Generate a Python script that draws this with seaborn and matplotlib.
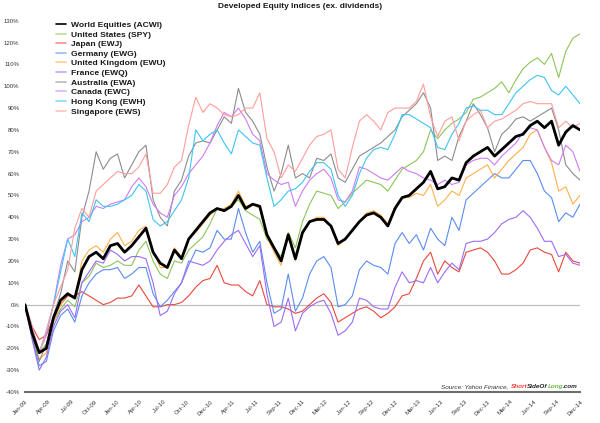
import numpy as np
import pandas as pd
import matplotlib
matplotlib.use("Agg")
import matplotlib.pyplot as plt
from matplotlib.lines import Line2D
import seaborn as sns
from matplotlib.offsetbox import TextArea, HPacker, AnchoredOffsetbox

SERIES = ["World Equities (ACWI)", "United States (SPY)", "Japan (EWJ)", "Germany (EWG)",
          "United Kingdom (EWU)", "France (EWQ)", "Australia (EWA)", "Canada (EWC)",
          "Hong Kong (EWH)", "Singapore (EWS)"]
COLORS = ["#000000", "#8cc45a", "#e8483e", "#5a8cf0", "#ffb04a", "#9b6cf5",
          "#8c8c8c", "#cf7cf5", "#3cc4f5", "#ff9e9a"]

TICK_LABELS = ["Jan-09", "Apr-09", "Jul-09", "Oct-09", "Jan-10", "Apr-10", "Jul-10", "Oct-10",
               "Dec-10", "Apr-11", "Jul-11", "Sep-11", "Dec-11", "Mar-12", "Jun-12", "Sep-12",
               "Dec-12", "Mar-13", "Jun-13", "Sep-13", "Dec-13", "Mar-14", "Jun-14", "Sep-14",
               "Dec-14"]
Y_TICKS = list(range(-40, 131, 10))

# cumulative % returns, sampled every 4 weeks from 2 Jan 2009
world = [0, -13, -22, -20, -6, 2, 5, 3, 16, 22,
         24, 21, 27, 28, 24, 27, 31, 35, 24, 19,
         17, 25, 21, 30, 34, 38, 42, 44, 43, 45,
         50, 44, 46, 45, 32, 26, 20, 32, 21, 33,
         38, 39, 39, 36, 28, 30, 34, 38, 41, 42,
         40, 36, 44, 49, 50, 53, 56, 61, 53, 54,
         58, 57, 65, 68, 70, 72, 68, 71, 74, 77,
         78, 82, 84, 81, 84, 73, 79, 82, 80]
us = [0, -12, -22, -18, -8, -2, 2, -1, 10, 13,
      19, 17, 18, 20, 18, 18, 25, 29, 20, 14,
      12, 20, 19, 25, 28, 31, 37, 44, 44, 45,
      48, 43, 41, 39, 30, 26, 22, 33, 26, 38,
      46, 52, 51, 50, 44, 47, 51, 54, 57, 56,
      55, 52, 57, 62, 64, 66, 70, 80, 76, 80,
      83, 85, 88, 94, 95, 97, 99, 102, 97, 103,
      108, 111, 113, 110, 115, 104, 116, 122, 124]
japan = [0, -10, -16, -14, -6, 0, 4, 4, 6, 4,
         2, 0, 1, 3, 3, 4, 9, 4, -1, -1,
         0, 0, 1, 4, 8, 11, 12, 18, 10, 9,
         9, 6, 4, 11, 0, -1, -1, -2, -4, -3,
         0, 3, 5, 1, -8, -6, -4, -2, -1, -3,
         -6, -4, -1, 4, 5, 12, 20, 24, 14, 20,
         17, 15, 24, 25, 26, 24, 20, 14, 14, 16,
         19, 25, 26, 24, 23, 15, 24, 20, 19]
germany = [0, -15, -28, -26, -12, -5, -2, -8, 4, 10,
           14, 16, 16, 17, 12, 14, 17, 17, 5, -1,
           2, 6, 10, 18, 25, 24, 26, 34, 30, 30,
           44, 33, 24, 29, 10, -4, -2, 14, -3, 3,
           14, 20, 22, 17, -1, 0, 4, 16, 20, 18,
           17, 14, 28, 33, 28, 32, 25, 35, 30, 27,
           40, 34, 48, 51, 54, 57, 60, 58, 58, 62,
           66, 66, 60, 52, 49, 38, 42, 40, 46]
uk = [0, -14, -25, -22, -8, 0, 5, 3, 20, 25,
      27, 24, 30, 33, 27, 29, 34, 36, 25, 17,
      17, 26, 22, 30, 33, 37, 41, 44, 44, 46,
      52, 45, 46, 44, 31, 24, 18, 33, 20, 32,
      38, 40, 40, 36, 27, 30, 34, 38, 42, 43,
      41, 37, 45, 49, 49, 51, 50, 55, 45, 48,
      52, 50, 58, 60, 62, 64, 58, 62, 66, 69,
      72, 78, 80, 72, 65, 52, 54, 46, 50]
france = [0, -16, -30, -24, -10, -3, 0, -6, 10, 15,
          20, 19, 25, 23, 20, 22, 22, 21, 10, -5,
          -3, 5, 10, 20, 19, 18, 20, 25, 29, 32,
          34, 28, 22, 27, 5, -10, -8, 3, -12, -4,
          -1, 1, 2, -4, -14, -12, -8, 3, 2, -1,
          -2, -2, 8, 15, 10, 11, 10, 17, 10, 15,
          19, 16, 28, 29, 29, 30, 33, 37, 39, 40,
          43, 40, 35, 29, 29, 22, 23, 19, 18]
australia = [0, -14, -26, -18, -5, 5, 20, 15, 40, 52,
             70, 62, 67, 69, 58, 64, 70, 73, 48, 40,
             36, 52, 57, 68, 74, 75, 74, 80, 86, 83,
             99, 88, 84, 78, 63, 52, 60, 73, 58, 60,
             58, 67, 66, 69, 58, 56, 62, 68, 70, 72,
             74, 77, 80, 86, 89, 92, 97, 90, 66, 68,
             66, 77, 84, 92, 87, 81, 70, 78, 81, 85,
             86, 84, 86, 88, 90, 80, 64, 60, 57]
canada = [0, -10, -22, -14, 0, 18, 30, 32, 38, 40,
          45, 44, 46, 47, 48, 54, 58, 54, 46, 42,
          40, 50, 54, 60, 64, 68, 74, 82, 88, 86,
          90, 85, 78, 75, 60, 57, 55, 56, 45, 52,
          57, 60, 62, 58, 48, 47, 52, 63, 62, 60,
          58, 57, 60, 63, 61, 60, 58, 57, 55, 57,
          55, 56, 64, 66, 67, 67, 64, 68, 71, 74,
          79, 81, 80, 72, 66, 64, 73, 70, 61]
hongkong = [0, -12, -22, -12, 0, 15, 30, 22, 42, 38,
            48, 45, 45, 46, 48, 50, 55, 52, 39, 36,
            38, 43, 48, 58, 80, 75, 78, 80, 74, 69,
            80, 77, 74, 73, 58, 45, 48, 52, 53, 56,
            61, 65, 65, 62, 50, 45, 50, 60, 67, 71,
            72, 71, 78, 87, 87, 85, 83, 81, 72, 71,
            78, 83, 90, 91, 89, 89, 87, 87, 92, 97,
            100, 103, 105, 104, 98, 96, 100, 96, 92]
singapore = [0, -10, -22, -12, 0, 8, 16, 35, 44, 40,
             52, 55, 58, 61, 60, 60, 63, 69, 51, 51,
             55, 63, 66, 82, 95, 88, 92, 90, 87, 86,
             87, 90, 90, 97, 76, 70, 58, 64, 61, 67,
             73, 77, 78, 80, 62, 58, 72, 84, 87, 84,
             80, 88, 90, 90, 90, 93, 101, 86, 77, 84,
             86, 75, 84, 87, 89, 81, 84, 85, 87, 89,
             92, 93, 92, 92, 92, 81, 84, 81, 83]

VALUES = [world, us, japan, germany, uk, france, australia, canada, hongkong, singapore]

dates = pd.date_range("2009-01-02", periods=len(world), freq="28D")
tick_dates = pd.date_range("2009-01-02", periods=len(TICK_LABELS), freq="91D")

df = pd.concat([pd.DataFrame({"date": dates, "value": v, "series": s})
                for s, v in zip(SERIES, VALUES)], ignore_index=True)

sns.set_theme(style="white")
plt.rcParams['font.family'] = ['Liberation Sans', 'DejaVu Sans']

fig = plt.figure(figsize=(6, 4.23), dpi=100)
ax = fig.add_axes([25 / 600, 31 / 423, 555 / 600, 371.3 / 423])

ax.axhline(0, color="#bdbdbd", lw=0.9, zorder=1)

order = SERIES[1:] + SERIES[:1]
for s in order:
    i = SERIES.index(s)
    sub = df[df["series"] == s]
    sns.lineplot(data=sub, x="date", y="value", color=COLORS[i],
                 lw=2.0 if i == 0 else 0.8, ax=ax, legend=False,
                 zorder=5 if i == 0 else 3)

handles = [Line2D([], [], color=c, lw=1.2, alpha=1.0 if i == 0 else 0.6)
           for i, c in enumerate(COLORS)]
leg = ax.legend(handles, SERIES, loc="upper left",
                bbox_to_anchor=(56 / 600, 1 - 21 / 423), bbox_transform=fig.transFigure,
                frameon=False, borderpad=0, borderaxespad=0, handlelength=1.2,
                handletextpad=0.55, labelspacing=0.2,
                prop={"family": "Liberation Sans", "weight": "bold", "size": 6.1})
for t in leg.get_texts():
    t.set_color("#1a1a1a")

ax.set_xlim(dates[0], dates[-1])
ax.set_ylim(-40, 130)
ax.set_yticks(Y_TICKS)
ax.set_yticklabels([f"{v}%" for v in Y_TICKS], fontsize=4.3, color="#333333")
ax.set_xticks(tick_dates)
ax.set_xticklabels(TICK_LABELS, fontsize=4.3, color="#333333", rotation=45,
                   ha="right", rotation_mode="anchor")
ax.tick_params(axis="both", length=0)
ax.tick_params(axis="y", pad=4)
ax.tick_params(axis="x", pad=5)
ax.set_xlabel("")
ax.set_ylabel("")
for side in ["left", "top", "right"]:
    ax.spines[side].set_visible(False)
ax.spines["bottom"].set_color("#6e6e6e")
ax.spines["bottom"].set_linewidth(1.5)

fig.text(0.5, 1 - 7 / 423, "Developed Equity Indices (ex. dividends)", ha="center",
         va="center", fontsize=6.0, weight="bold", color="#1a1a1a")

tp = dict(style="italic", size=4.6)
inner = HPacker(children=[
    TextArea("Short", textprops=dict(color="#ff3b30", weight="bold", **tp)),
    TextArea("SideOf", textprops=dict(color="#222222", weight="bold", **tp)),
    TextArea("Long", textprops=dict(color="#66bb44", weight="bold", **tp)),
    TextArea(".com", textprops=dict(color="#222222", weight="bold", **tp)),
], pad=0, sep=0, align="baseline")
outer = HPacker(children=[TextArea("Source: Yahoo Finance,", textprops=dict(color="#333333", **tp)),
                          inner], pad=0, sep=1.5, align="baseline")
box = AnchoredOffsetbox(loc="lower right", child=outer, frameon=False, pad=0, borderpad=0,
                        bbox_to_anchor=(578 / 600, (423 - 389) / 423),
                        bbox_transform=fig.transFigure)
ax.add_artist(box)

fig.savefig("out.png", dpi=100)
